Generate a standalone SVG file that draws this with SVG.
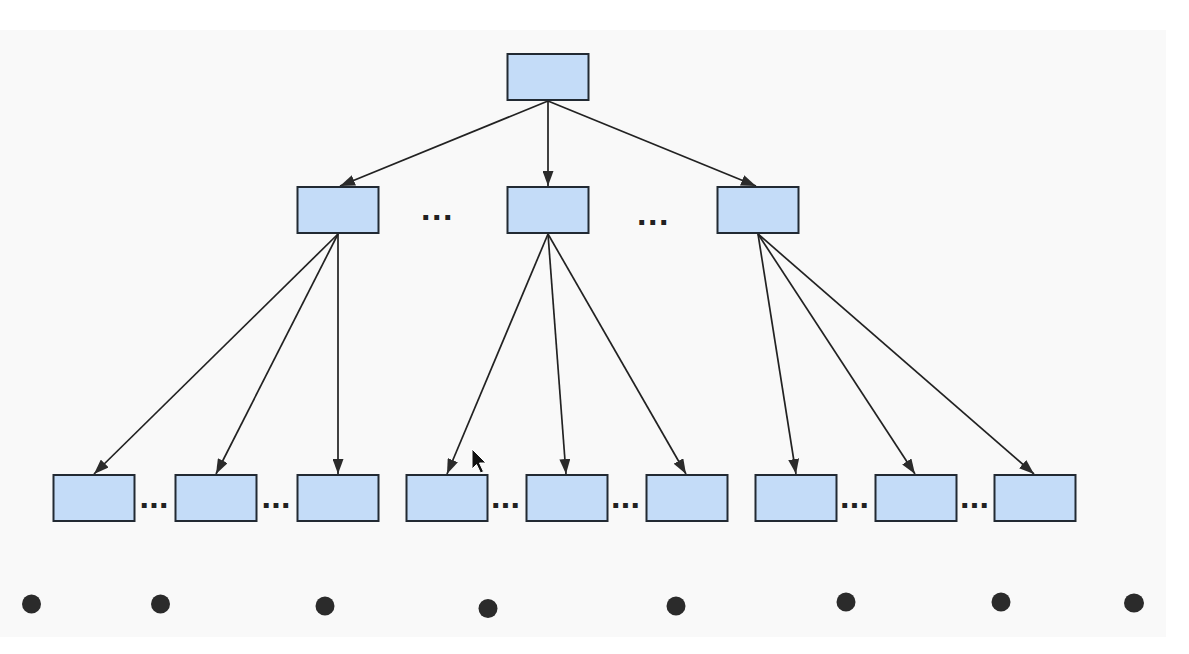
<svg xmlns="http://www.w3.org/2000/svg" width="1189" height="654" viewBox="0 0 1189 654">
  <style>
    .node { fill: #c4dcf8; stroke: #222a33; stroke-width: 2; }
    .edge { stroke: #222; stroke-width: 1.7; fill: none; marker-end: url(#arrow); }
    .ell { font-family: "Liberation Sans", Arial, sans-serif; font-weight: bold; font-size: 34px; fill: #222; }
    .ell-top { letter-spacing: 1.5px; }
    .ell-low { letter-spacing: 0.3px; }
    .dot { fill: #2b2b2b; }
  </style>
  <defs>
    <marker id="arrow" viewBox="0 0 15 11" refX="15" refY="5.5" markerWidth="15" markerHeight="11" markerUnits="userSpaceOnUse" orient="auto">
      <path d="M0,0 L15,5.5 L0,11 z" fill="#2b2b2b"/>
    </marker>
  </defs>
  <rect x="0" y="0" width="1189" height="654" fill="#ffffff"/>
  <rect x="0" y="30" width="1166" height="607" fill="#f9f9f9"/>

  <g id="connectors">
    <line class="edge" x1="548" y1="101" x2="340" y2="186"/>
    <line class="edge" x1="548" y1="101" x2="548" y2="186"/>
    <line class="edge" x1="548" y1="101" x2="756" y2="186"/>

    <line class="edge" x1="338" y1="234" x2="94" y2="474"/>
    <line class="edge" x1="338" y1="234" x2="216" y2="474"/>
    <line class="edge" x1="338" y1="234" x2="338" y2="474"/>

    <line class="edge" x1="548" y1="234" x2="447" y2="474"/>
    <line class="edge" x1="548" y1="234" x2="566" y2="474"/>
    <line class="edge" x1="548" y1="234" x2="686" y2="474"/>

    <line class="edge" x1="758" y1="234" x2="796" y2="474"/>
    <line class="edge" x1="758" y1="234" x2="915" y2="474"/>
    <line class="edge" x1="758" y1="234" x2="1034" y2="474"/>
  </g>

  <g id="root"><rect class="node" x="507.5" y="54" width="81" height="46"/></g>

  <g id="mid-left"><rect class="node" x="297.5" y="187" width="81" height="46"/></g>
  <g id="mid-center"><rect class="node" x="507.5" y="187" width="81" height="46"/></g>
  <g id="mid-right"><rect class="node" x="717.5" y="187" width="81" height="46"/></g>

  <g id="leaf-1"><rect class="node" x="53.5" y="475" width="81" height="46"/></g>
  <g id="leaf-2"><rect class="node" x="175.5" y="475" width="81" height="46"/></g>
  <g id="leaf-3"><rect class="node" x="297.5" y="475" width="81" height="46"/></g>
  <g id="leaf-4"><rect class="node" x="406.5" y="475" width="81" height="46"/></g>
  <g id="leaf-5"><rect class="node" x="526.5" y="475" width="81" height="46"/></g>
  <g id="leaf-6"><rect class="node" x="646.5" y="475" width="81" height="46"/></g>
  <g id="leaf-7"><rect class="node" x="755.5" y="475" width="81" height="46"/></g>
  <g id="leaf-8"><rect class="node" x="875.5" y="475" width="81" height="46"/></g>
  <g id="leaf-9"><rect class="node" x="994.5" y="475" width="81" height="46"/></g>

  <g id="ellipses">
    <text class="ell ell-top" x="421" y="220">...</text>
    <text class="ell ell-top" x="637" y="225">...</text>
    <text class="ell ell-low" x="139.5" y="508">...</text>
    <text class="ell ell-low" x="261.5" y="508">...</text>
    <text class="ell ell-low" x="491" y="508">...</text>
    <text class="ell ell-low" x="611" y="508">...</text>
    <text class="ell ell-low" x="840" y="508">...</text>
    <text class="ell ell-low" x="960" y="508">...</text>
  </g>

  <g id="bullets">
    <ellipse class="dot" cx="31.5" cy="604" rx="9.5" ry="9.5"/>
    <ellipse class="dot" cx="160.5" cy="604" rx="9.5" ry="9.5"/>
    <ellipse class="dot" cx="325" cy="606" rx="9.5" ry="9.5"/>
    <ellipse class="dot" cx="488" cy="608.5" rx="9.5" ry="9.5"/>
    <ellipse class="dot" cx="676" cy="606" rx="9.5" ry="9.5"/>
    <ellipse class="dot" cx="846" cy="602" rx="9.5" ry="9.5"/>
    <ellipse class="dot" cx="1001" cy="602" rx="9.5" ry="9.5"/>
    <ellipse class="dot" cx="1134" cy="603" rx="10" ry="9.5"/>
  </g>

  <g id="cursor">
    <path d="M472,449 L472,469 L476.5,464.5 L480.5,473 L483.5,471.5 L479.5,463 L486,463 Z" fill="#111" stroke="#fff" stroke-width="1"/>
  </g>
</svg>
